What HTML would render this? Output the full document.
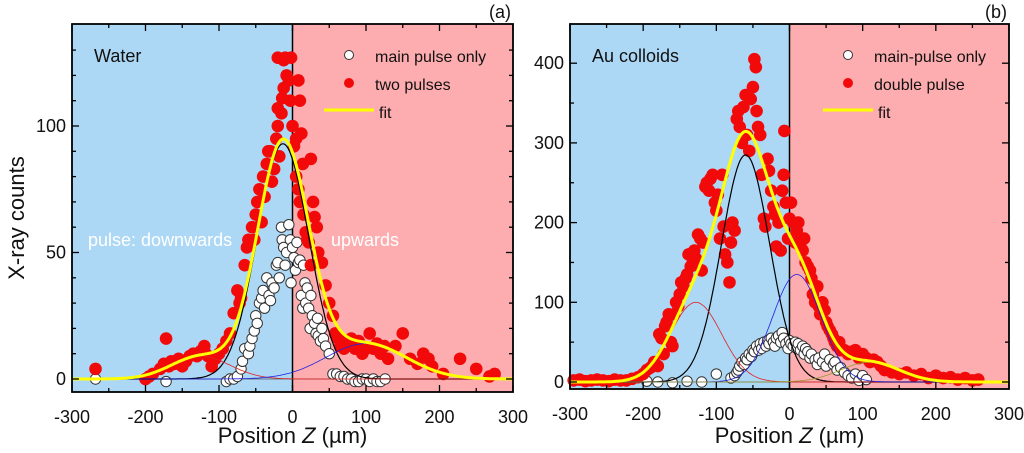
<!DOCTYPE html>
<html><head><meta charset="utf-8"><style>
html,body{margin:0;padding:0;background:#fff;}
svg{display:block;font-family:"Liberation Sans",sans-serif;}
</style></head><body>
<svg id="fig" width="1024" height="453" viewBox="0 0 1024 453" xmlns="http://www.w3.org/2000/svg"></svg>
<script>
// ---------- Panel (a) data ----------
const aRedX=[-268,-200,-195,-190,-180,-175,-172,-168,-165,-160,-155,-150,-145,-140,-135,-130,-125,-120,-118,-115,-110,-105,-100,-95,-90,-85,-80,-75,-72,-70,-65,-62,-60,-55,-52,-50,-48,-45,-42,-40,-38,-35,-33,-30,-28,-25,-22,-20,-18,-15,-12,-10,-8,-5,-3,-2,-12,-20,-14,-20,0,2,5,8,10,12,5,8,10,14,15,18,20,22,25,25,28,30,33,35,40,45,50,55,58,62,65,70,75,80,85,90,95,100,105,110,115,120,125,130,140,150,160,170,178,185,190,205,228,250,268,275];
const aRedY=[4,0,1,2,4,6,16,5,7,6,8,5,7,9,10,9,11,13,10,9,5,8,10,12,15,18,26,35,30,32,45,52,55,60,55,65,70,75,62,80,72,85,90,90,78,83,95,100,88,105,115,127,120,118,110,127,126,127,111,107,100,92,95,118,110,97,80,75,70,85,65,58,55,54,87,45,70,64,60,50,46,37,30,25,18,16,13,12,15,16,12,15,10,12,18,12,14,10,13,8,13,18,8,6,10,8,5,2,8,4,1,2];
const aWhiteX=[-268,-172,-90,-85,-80,-75,-70,-68,-65,-60,-58,-55,-52,-50,-48,-45,-42,-40,-38,-35,-32,-30,-28,-25,-22,-20,-18,-15,-14,-12,-10,-8,-5,-3,-2,0,2,4,6,8,10,12,14,15,17,18,20,22,24,25,27,30,32,34,35,38,40,42,45,50,55,60,65,70,75,80,85,90,95,100,105,110,115,120,126];
const aWhiteY=[0,-1,-1,0,0,1,4,7,12,10,13,16,19,25,22,30,32,35,28,40,33,31,38,36,45,46,40,60,55,52,45,50,61,55,38,52,48,43,54,46,47,33,28,45,38,30,36,28,20,33,25,22,18,24,17,15,20,16,13,10,2,2,1,1,0,0,-1,-1,0,0,-1,0,-1,-1,0];
// fit components: amplitude, center, sigma
const aCompAmp=[93,9,14];
const aCompCen=[-13,-125,100];
const aCompSig=[35,40,55];
const aCompCol=["#000","#e02020","#2020e0"];

// ---------- Panel (b) data ----------
const bRedX=[-295,-287,-279,-271,-263,-255,-247,-239,-231,-223,-215,-207,-200,-195,-190,-185,-180,-178,-175,-172,-170,-168,-165,-162,-160,-158,-155,-152,-150,-148,-145,-142,-140,-138,-135,-132,-130,-128,-125,-122,-120,-118,-115,-113,-110,-108,-105,-102,-100,-98,-95,-92,-90,-88,-85,-82,-80,-78,-75,-72,-70,-68,-65,-63,-60,-58,-55,-53,-50,-48,-46,-45,-43,-40,-38,-35,-33,-30,-28,-25,-22,-20,-18,-15,-12,-10,-8,-7,-5,-2,0,2,5,8,10,12,15,18,20,22,25,28,30,32,35,38,40,42,45,48,50,52,55,58,60,62,65,68,70,75,80,85,90,95,100,105,110,115,120,125,130,140,150,160,170,180,190,200,210,220,230,240,250,258];
const bRedY=[2,3,1,2,3,2,1,3,2,2,4,6,10,15,18,25,20,60,55,35,70,75,85,50,45,85,100,95,110,125,120,130,135,160,145,150,165,155,185,180,140,175,245,250,240,255,260,225,215,235,180,260,195,160,150,125,175,200,190,330,340,320,300,345,360,310,290,355,370,405,395,340,320,310,260,205,195,280,265,240,220,210,170,200,165,240,260,315,225,180,205,225,200,175,190,200,170,165,180,150,145,140,130,110,100,120,95,85,100,90,75,70,65,60,55,50,45,50,40,40,35,38,40,30,35,30,25,28,25,20,15,12,10,12,8,10,5,8,5,6,3,5,2,3];
const bWhiteX=[-195,-180,-160,-140,-120,-100,-80,-75,-72,-70,-68,-65,-62,-60,-58,-55,-52,-50,-48,-45,-42,-40,-38,-35,-32,-30,-28,-25,-22,-20,-18,-15,-12,-10,-8,-5,-2,0,2,5,8,10,12,15,18,20,22,25,28,30,35,38,40,45,48,50,55,60,62,65,70,75,80,85,90,95,100,105];
const bWhiteY=[1,0,-1,1,0,10,5,8,12,15,20,25,22,30,28,35,32,40,38,45,40,48,42,50,45,52,48,55,50,45,55,58,50,62,55,48,42,52,48,45,50,42,48,40,45,35,42,38,30,35,28,22,30,25,35,20,28,22,25,15,18,12,8,5,10,2,8,3];
const bCompAmp=[285,100,135,25];
const bCompCen=[-60,-128,10,110];
const bCompSig=[33,35,33,40];
const bCompCol=["#000","#e02020","#2020e0","#9a9a30"];

const NS="http://www.w3.org/2000/svg";
const svg=document.getElementById('fig');
function mk(tag,attrs,parent){const e=document.createElementNS(NS,tag);for(const k in attrs)e.setAttribute(k,attrs[k]);(parent||svg).appendChild(e);return e;}

function panel(cfg){
  const g=mk('g',{});
  
  
  const xs=v=>cfg.x0+(v-(-300))/600*(cfg.x1-cfg.x0);
  const ys=v=>cfg.yZero-v*cfg.ypu;
  const mid=xs(0);
  const bl=mk('rect',{x:cfg.x0,y:cfg.top,width:mid-cfg.x0,height:cfg.bot-cfg.top,fill:'#acd8f6'},g);
  
  const pk=mk('rect',{x:mid,y:cfg.top,width:cfg.x1-mid,height:cfg.bot-cfg.top,fill:'#fdadaf'},g);
  
  mk('line',{x1:mid,x2:mid,y1:cfg.top,y2:cfg.bot,stroke:'#000','stroke-width':1.5},g);
  mk('line',{x1:cfg.x0,x2:cfg.x1,y1:ys(0),y2:ys(0),stroke:'#555','stroke-width':0.8},g);
  const N=300;
  function fitVal(x,list){let s=0;for(const i of list)s+=cfg.amp[i]*Math.exp(-Math.pow(x-cfg.cen[i],2)/(2*cfg.sig[i]*cfg.sig[i]));return s;}
  function pathFor(list){let d='';for(let k=0;k<=N;k++){const x=-300+600*k/N;d+=(k?'L':'M')+xs(x).toFixed(1)+','+ys(fitVal(x,list)).toFixed(1);}return d;}
  cfg.wx.forEach((x,i)=>{const c=mk('circle',{cx:xs(x),cy:ys(cfg.wy[i]),r:5.2,fill:'#fff',stroke:'#333','stroke-width':1},g);
    });
  cfg.rx.forEach((x,i)=>{const c=mk('circle',{cx:xs(x),cy:ys(cfg.ry[i]),r:6.3,fill:'#f20a0a'},g);
    });
  cfg.amp.forEach((a,i)=>{const p=mk('path',{d:pathFor([i]),fill:'none',stroke:cfg.col[i],'stroke-width':i==0?1.2:0.8},g);
    });
  const fp=mk('path',{d:pathFor(cfg.amp.map((_,i)=>i)),fill:'none',stroke:'#ffff00','stroke-width':3},g);
  
  mk('rect',{x:cfg.x0,y:cfg.top,width:cfg.x1-cfg.x0,height:cfg.bot-cfg.top,fill:'none',stroke:'#000','stroke-width':1.8},g);
  for(let v=-300;v<=300;v+=50){const X=xs(v),L=v%100===0?7:4;
    mk('line',{x1:X,x2:X,y1:cfg.bot,y2:cfg.bot-L,stroke:'#000','stroke-width':1.3},g);
    mk('line',{x1:X,x2:X,y1:cfg.top,y2:cfg.top+L,stroke:'#000','stroke-width':1.3},g);
    if(v%100===0){const t=mk('text',{x:X,y:cfg.bot+31,'text-anchor':'middle','font-size':18,fill:'#111'},g);t.textContent=v;
      }}
  for(let v=0;ys(v)>cfg.top+1;v+=cfg.yMinor){const Y=ys(v),maj=v%cfg.yMajor===0,L=maj?7:4;
    mk('line',{x1:cfg.x0,x2:cfg.x0+L,y1:Y,y2:Y,stroke:'#000','stroke-width':1.3},g);
    mk('line',{x1:cfg.x1,x2:cfg.x1-L,y1:Y,y2:Y,stroke:'#000','stroke-width':1.3},g);
    if(maj){const t=mk('text',{x:cfg.x0-6,y:Y+6,'text-anchor':'end','font-size':18,fill:'#111'},g);t.textContent=v;
      }}
  const xt=mk('text',{x:mid,y:443,'text-anchor':'middle','font-size':22,fill:'#111'},g);
  xt.innerHTML='Position <tspan font-style="italic">Z</tspan> (µm)';
  
  const s=mk('text',{x:cfg.x0+22,y:62,'font-size':18,fill:'#111'},g);s.textContent=cfg.sample;
  
  const pl=mk('text',{x:cfg.x1-2,y:18,'text-anchor':'end','font-size':18,fill:'#111'},g);pl.textContent=cfg.tag;
  
  const lg=mk('g',{},g);
  mk('circle',{cx:cfg.lx,cy:55,r:4.5,fill:'#fff',stroke:'#333'},lg);
  mk('circle',{cx:cfg.lx,cy:83,r:5,fill:'#f20a0a'},lg);
  mk('line',{x1:cfg.lx-25,x2:cfg.lx+25,y1:110,y2:110,stroke:'#ffff00','stroke-width':3},lg);
  const l1=mk('text',{x:cfg.lx+26,y:62,'font-size':16,fill:'#111'},lg);l1.textContent=cfg.leg1;
  
  const l2=mk('text',{x:cfg.lx+26,y:90,'font-size':16,fill:'#111'},lg);l2.textContent=cfg.leg2;
  
  const l3=mk('text',{x:cfg.lx+30,y:118,'font-size':16,fill:'#111'},lg);l3.textContent='fit';
  
  return g;
}
panel({name:'panel-a',x0:72,x1:513,top:24,bot:392,yZero:379,ypu:2.53,yMajor:50,yMinor:10,
  rx:aRedX,ry:aRedY,wx:aWhiteX,wy:aWhiteY,amp:aCompAmp,cen:aCompCen,sig:aCompSig,col:aCompCol,
  sample:'Water',tag:'(a)',lx:349,leg1:'main pulse only',leg2:'two pulses'});
panel({name:'panel-b',x0:570,x1:1009,top:24,bot:389,yZero:382,ypu:0.797,yMajor:100,yMinor:50,
  rx:bRedX,ry:bRedY,wx:bWhiteX,wy:bWhiteY,amp:bCompAmp,cen:bCompCen,sig:bCompSig,col:bCompCol,
  sample:'Au colloids',tag:'(b)',lx:848,leg1:'main-pulse only',leg2:'double pulse'});
const yt=mk('text',{x:0,y:0,'text-anchor':'middle','font-size':22,fill:'#111',transform:'translate(24,218) rotate(-90)'});
yt.textContent='X-ray counts';

const d1=mk('text',{x:88,y:246,'font-size':18,fill:'#fff'});d1.textContent='pulse: downwards';

const d2=mk('text',{x:331,y:246,'font-size':18,fill:'#fff'});d2.textContent='upwards';

</script>
</body></html>
